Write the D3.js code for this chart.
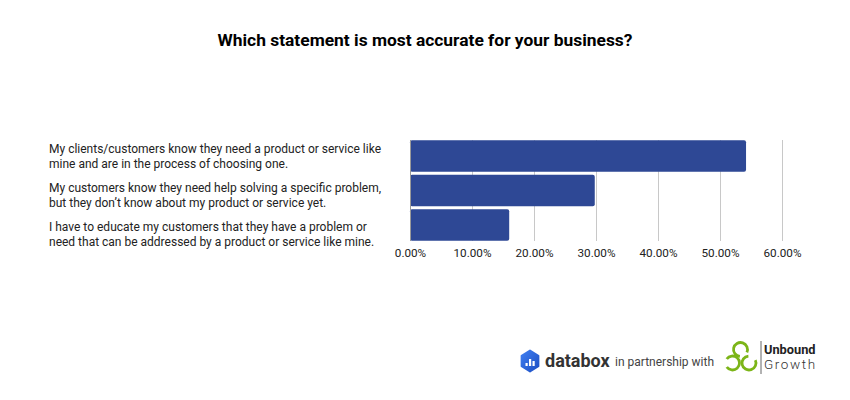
<!DOCTYPE html>
<html><head><meta charset="utf-8">
<script src="https://cdn.jsdelivr.net/npm/d3@7/dist/d3.min.js"></script>
<style>body{margin:0;background:#fff;} svg{display:block;font-family:Roboto,"Noto Sans",sans-serif;}</style>
</head><body>
<svg id="c" width="850" height="400"></svg>
<script>
const title = "Which statement is most accurate for your business?";
const categories = [
  ["My clients/customers know they need a product or service like", "mine and are in the process of choosing one."],
  ["My customers know they need help solving a specific problem,", "but they don\u2019t know about my product or service yet."],
  ["I have to educate my customers that they have a problem or", "need that can be addressed by a product or service like mine."]
];
const values = [0.542, 0.298, 0.160];
const ticks = [0, 0.1, 0.2, 0.3, 0.4, 0.5, 0.6];

const svg = d3.select("#c");
svg.append("rect").attr("width",850).attr("height",400).attr("fill","#fff");

svg.append("text").attr("x",425).attr("y",46).attr("text-anchor","middle")
  .attr("font-size",17.4).attr("font-weight","bold").attr("fill","#000").text(title);

const x = d3.scaleLinear().domain([0,0.6]).range([410,782]);
const y = d3.scaleBand().domain(d3.range(categories.length)).range([140,241]).paddingInner(0.09).paddingOuter(0.01);
const yLab = d3.scaleBand().domain(d3.range(categories.length)).range([136,253.5]);

// gridlines
svg.append("g").selectAll("line").data(ticks.slice(1)).join("line")
  .attr("x1",d=>x(d)).attr("x2",d=>x(d)).attr("y1",140).attr("y2",241)
  .attr("stroke","#c8c8c8").attr("stroke-width",1).attr("shape-rendering","crispEdges");

// bars
svg.append("g").selectAll("rect").data(values).join("rect")
  .attr("x",x(0)).attr("y",(d,i)=>y(i)).attr("width",d=>x(d)-x(0)).attr("height",y.bandwidth())
  .attr("rx",2).attr("fill","#2e4895");

// zero line
svg.append("line").attr("x1",x(0)).attr("x2",x(0)).attr("y1",140).attr("y2",241)
  .attr("stroke","#9a9a9a").attr("shape-rendering","crispEdges");

// x tick labels
const xAxis = d3.axisBottom(x).tickValues(ticks).tickFormat(d3.format(".2%")).tickSize(0).tickPadding(0);
const gx = svg.append("g").attr("transform","translate(0,248)").call(xAxis);
gx.select(".domain").remove();
gx.selectAll("text").attr("font-size",11.7).attr("fill","#222").attr("font-family","Roboto,sans-serif").attr("dy","0.75em");

// category labels
const lab = svg.append("g").selectAll("text").data(categories).join("text")
  .attr("x",49).attr("y",(d,i)=>yLab(i)+yLab.bandwidth()/2 - 3).attr("font-size",12).attr("fill","#222");
lab.each(function(d){
  const t=d3.select(this);
  d.forEach((line,j)=>t.append("tspan").attr("x",49).attr("dy", j===0 ? 0 : 15).text(line));
});

// footer logos
const f = svg.append("g");
// databox hexagon icon
const hx=530, hy=361, hr=10.5;
const hex = d3.range(6).map(k=>{const a=Math.PI/3*k - Math.PI/2; return [hx+hr*Math.cos(a)*0.92, hy+hr*Math.sin(a)];});
const grad = svg.append("defs").append("linearGradient").attr("id","hg").attr("x1","0").attr("y1","0").attr("x2","1").attr("y2","1");
grad.append("stop").attr("offset","0").attr("stop-color","#3f7ef0");
grad.append("stop").attr("offset","1").attr("stop-color","#1d4fc4");
f.append("path").attr("d","M"+hex.map(p=>p.join(",")).join("L")+"Z").attr("fill","url(#hg)").attr("stroke","url(#hg)").attr("stroke-width",2).attr("stroke-linejoin","round");
[[-4.5,3],[-1,7],[2.5,5]].forEach(([dx,h])=>{
  f.append("rect").attr("x",hx+dx).attr("y",hy+5-h).attr("width",2.2).attr("height",h).attr("fill","#fff");
});
f.append("text").attr("x",545).attr("y",367).attr("font-size",18).attr("font-weight","bold").attr("fill","#333").attr("font-family","Roboto,sans-serif").text("databox");
f.append("text").attr("x",615).attr("y",366).attr("font-size",12).attr("fill","#444").text("in partnership with");
// unbound growth trefoil (three open arcs)
const gc="#7cb518";
const arc = d3.arc().innerRadius(5.6).outerRadius(8.4);
[[740.5,349.5,150],[732.5,363,270],[749,363,30]].forEach(([cx,cy,gapDeg])=>{
  const g0 = (gapDeg+35)*Math.PI/180, g1 = (gapDeg+35+290)*Math.PI/180;
  f.append("path").attr("transform",`translate(${cx},${cy})`)
    .attr("d",arc({startAngle:g0,endAngle:g1})).attr("fill",gc);
});
f.append("line").attr("x1",761).attr("x2",761).attr("y1",341).attr("y2",374).attr("stroke","#666");
f.append("text").attr("x",764).attr("y",354).attr("font-size",12.8).attr("font-weight","bold").attr("fill","#222").text("Unbound");
f.append("text").attr("x",764).attr("y",369).attr("font-size",13.5).attr("font-weight",300).attr("fill","#333").attr("letter-spacing",1.6).text("Growth");
</script>
</body></html>
